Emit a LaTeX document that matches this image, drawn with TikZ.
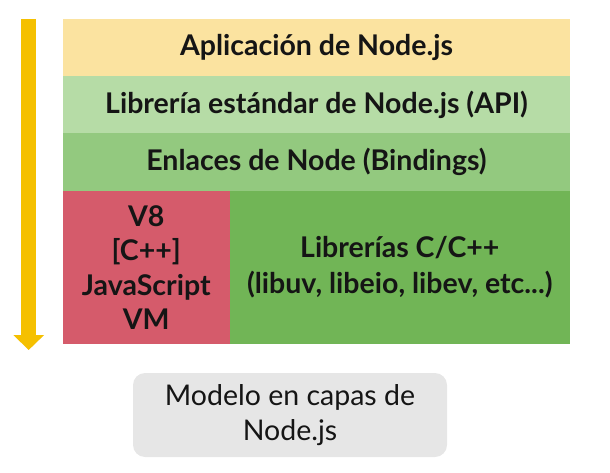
\documentclass[tikz,border=0pt]{standalone}
\usepackage{fontspec}
\setmainfont{Lato}
\usetikzlibrary{arrows.meta}

\definecolor{appyellow}{HTML}{FBE3A0}
\definecolor{apigreen}{HTML}{B6DCA6}
\definecolor{bindgreen}{HTML}{93C97F}
\definecolor{libgreen}{HTML}{71B556}
\definecolor{vred}{HTML}{D55B6B}
\definecolor{flowyellow}{HTML}{F5C000}
\definecolor{capgray}{HTML}{E6E6E6}
\definecolor{textdark}{HTML}{151515}

\begin{document}
\begin{tikzpicture}[x=1pt,y=-1pt,
	layer/.style={inner sep=0pt,minimum width=507pt,minimum height=57pt,text=textdark,
		font=\fontsize{28.5}{34.5}\selectfont\bfseries,align=center},
	block/.style={layer,minimum height=153pt}]
	
	\useasboundingbox (0,0) rectangle (610,473);
	
	% Draw layers
	\node[layer,fill=appyellow] (app) at (316.5,47.5) {Aplicación de Node.js};
	\node[layer,fill=apigreen] (api) at (316.5,104.5) {Librería estándar de Node.js (API)};
	\node[layer,fill=bindgreen,minimum height=58pt] (bind) at (316.5,162) {Enlaces de Node (Bindings)};
	\node[block,fill=vred,minimum width=166.5pt] (v8) at (146.25,267.5) {V8\\{[C++]}\\JavaScript\\VM};
	\node[block,fill=libgreen,minimum width=340.5pt,font=\fontsize{28.5}{36}\selectfont\bfseries]
		(libs) at (399.75,267.5) {Librerías C/C++\\(libuv, libeio, libev, etc...)};
	
	% Draw caption
	\node[fill=capgray,rounded corners=12pt,minimum width=314pt,minimum height=84pt,
		text=textdark,font=\fontsize{28.5}{35}\selectfont,align=center] (caption) at (290,415)
		{Modelo en capas de\\Node.js};
	
	% Draw arrow, from top layer to bottom layer
	\coordinate (flowtop) at (28.7,19);
	\coordinate (flowend) at (28.7,350);
	\draw[flowyellow,line width=14.7pt,-{Triangle[width=30pt,length=15pt]}] (flowtop) -- (flowend);
	
\end{tikzpicture}
\end{document}
